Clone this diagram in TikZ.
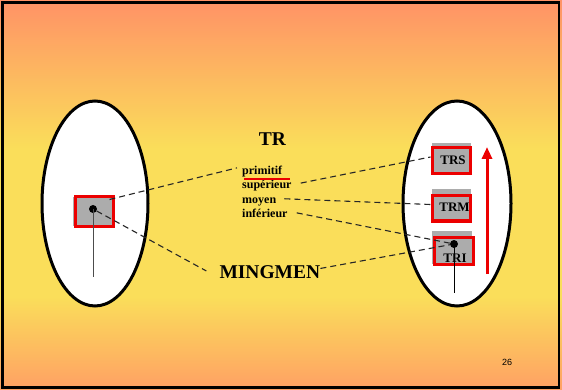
\documentclass[tikz,border=0pt]{standalone}
\usepackage{fontspec}
\setmainfont{Liberation Serif}
\newfontfamily\numfont{Liberation Sans}
\usetikzlibrary{arrows.meta,calc,shapes.geometric}
\definecolor{bgtop}{RGB}{255,146,102}
\definecolor{bgmid}{RGB}{250,222,90}
\definecolor{bgbot}{RGB}{255,160,100}
\definecolor{redbox}{RGB}{236,0,0}
\definecolor{halftone}{RGB}{172,172,172}
\pgfdeclareverticalshading{slidebg}{100bp}{color(0bp)=(bgbot); color(25bp)=(bgbot); color(37bp)=(bgmid); color(56bp)=(bgmid); color(75bp)=(bgtop); color(100bp)=(bgtop)}
\begin{document}
\begin{tikzpicture}[x=1pt,y=-1pt,
  oval/.style={ellipse,draw=black,line width=3pt,fill=white,inner sep=0pt},
  redframe/.style={rectangle,draw=redbox,line width=3pt,inner sep=0pt},
  blackdot/.style={circle,fill=black,inner sep=0pt,minimum size=8pt},
  smalltext/.style={anchor=base west,inner sep=0pt,font=\fontsize{12}{14}\selectfont\bfseries},
  bigtext/.style={inner sep=0pt,font=\fontsize{19.5}{22}\selectfont\bfseries},
  boxtext/.style={inner sep=0pt,font=\fontsize{13}{15}\selectfont\bfseries},
  dashline/.style={draw=black!85,line width=1.1pt,dash pattern=on 6pt off 4pt},
  stem/.style={line width=1pt}]
\useasboundingbox (0,0) rectangle (562,390);
% background
\shade[shading=slidebg] (0,0) rectangle (562,390);
\draw[line width=2.5pt] (2.5,2.5) rectangle (559,387.5);
% ellipses
\node[oval,minimum width=106pt,minimum height=205pt] (lell) at (95,203.5) {};
\node[oval,minimum width=108pt,minimum height=205pt] (rell) at (457,203.5) {};
% left box
\fill[halftone] (73,197) rectangle (113,226);
\node[redframe,minimum width=38pt,minimum height=29pt] (lbox) at (94,211.5) {};
\node[blackdot] (ldot) at (93,209) {};
\coordinate (lend) at (93,277);
\draw[stem,black!70] (ldot.center) -- (lend);
% texts
\node[bigtext] (tr) at (272.5,139) {TR};
\node[smalltext] (prim) at (242,174.3) {primitif};
\node[smalltext] (sup) at (242,189) {supérieur};
\node[smalltext] (moy) at (242,203.3) {moyen};
\node[smalltext] (inf) at (242,218) {inférieur};
\node[bigtext,anchor=base west] (ming) at (219.3,278.3) {MINGMEN};
\draw[redbox,line width=2.5pt] ($(prim.base west)+(2,4.5)$) -- ($(prim.base east)+(8,4.5)$);
% right boxes
\fill[halftone] (432,143) rectangle (471,174);
\node[boxtext] (trstext) at (453,160) {TRS};
\node[redframe,minimum width=38pt,minimum height=26pt] (trs) at (451,161) {};
\fill[halftone] (432,189) rectangle (471,221);
\node[boxtext] (trmtext) at (454.5,207) {TRM};
\node[redframe,minimum width=38pt,minimum height=25pt] (trm) at (451,208.5) {};
\fill[halftone] (432,231) rectangle (472,264);
\node[boxtext] (tritext) at (455,258.5) {TRI};
\node[redframe,minimum width=39pt,minimum height=27pt] (tri) at (453.5,250.5) {};
\node[blackdot] (rdot) at (454,244) {};
\coordinate (rend) at (454,293);
\draw[stem] (rdot.center) -- (rend);
% red arrow
\coordinate (abot) at (487,274);
\coordinate (atop) at (487,147);
\draw[redbox,line width=3pt,-{Triangle[width=10pt,length=12pt]}] (abot) -- (atop);
% dashed connectors
\draw[dashline] ($(lbox.north east)+(-5,4)$) -- ($(prim.west)+(-5,-3.5)$);
\draw[dashline] (ldot) -- ($(ming.west)+(-13,-1)$);
\draw[dashline] ($(sup.east)+(9,-3)$) -- ($(trs.west)+(0,-4)$);
\draw[dashline] ($(moy.east)+(8,-3)$) -- ($(trm.west)+(0,-4)$);
\draw[dashline] ($(inf.east)+(9,-1)$) -- (rdot);
\draw[dashline] ($(ming.east)+(0,-3.5)$) -- (rdot);
% page number
\node[inner sep=0pt,font=\numfont\fontsize{9}{10}\selectfont] (pg) at (507,362) {26};
\end{tikzpicture}
\end{document}
